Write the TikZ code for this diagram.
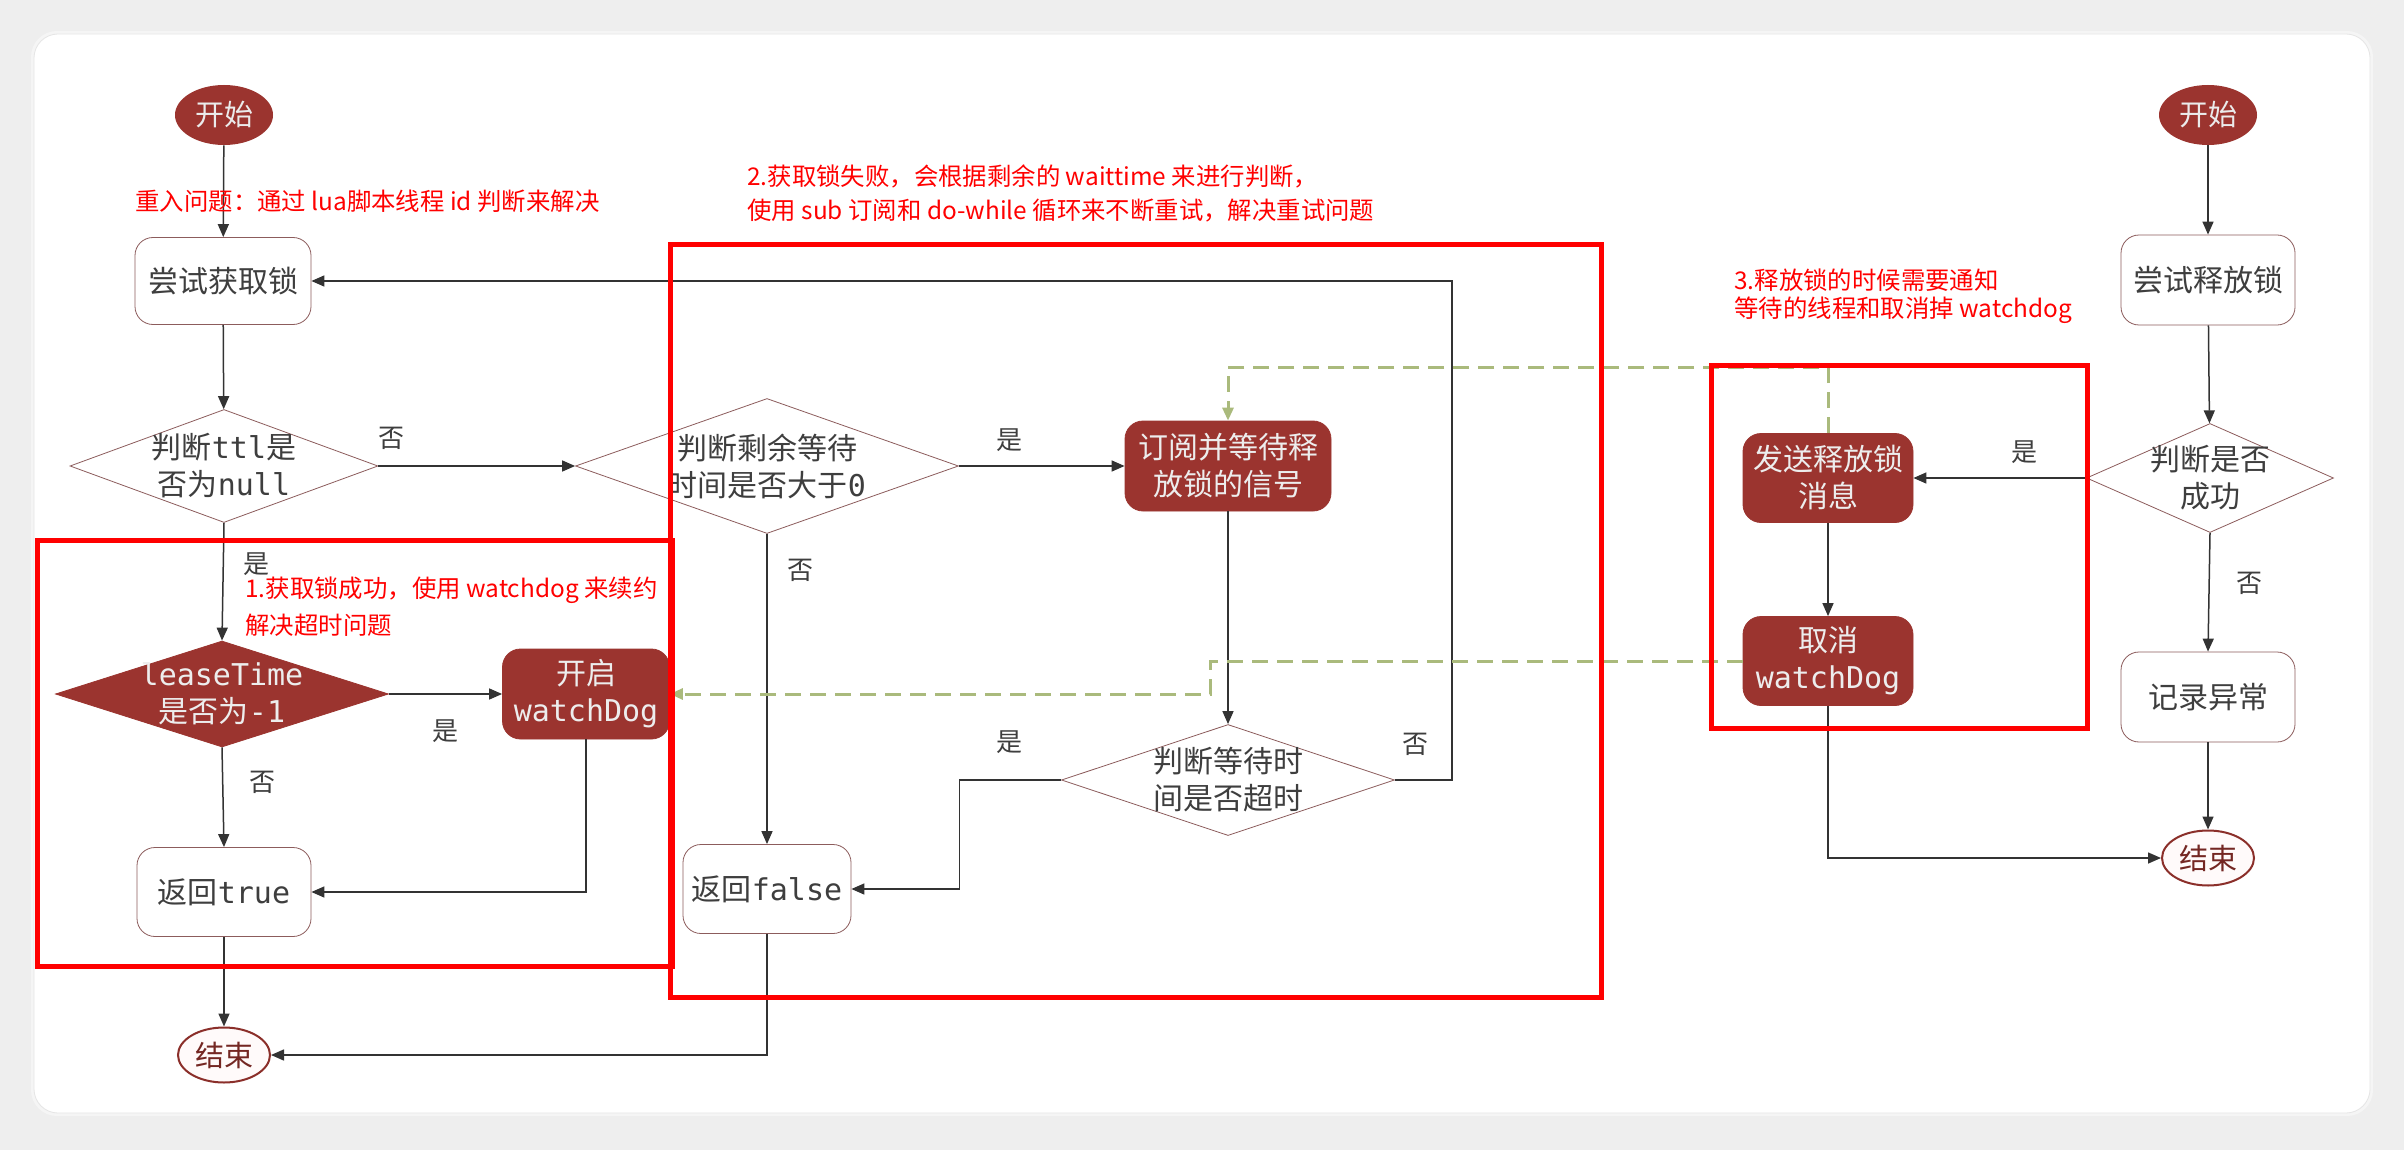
\documentclass[tikz,border=0pt]{standalone}
\usepackage{fontspec}
\setmainfont{Noto Sans CJK SC}
\newfontfamily\codefont{DejaVu Sans Mono}
\usepackage{tikz}
\usetikzlibrary{shapes,arrows.meta,positioning,calc}

\definecolor{lockred}{RGB}{155,52,47}
\definecolor{edgebrown}{RGB}{140,92,92}
\definecolor{notegreen}{RGB}{170,186,124}
\definecolor{textgray}{RGB}{62,62,62}
\definecolor{pagegray}{RGB}{238,238,238}

\newcommand{\monotxt}[1]{{\codefont #1}}

\tikzset{
  box/.style={draw=edgebrown, fill=white, rounded corners=9pt, minimum width=87pt, minimum height=44.5pt,
    inner sep=2pt, align=center, text=textgray, font=\fontsize{15}{18.5}\selectfont},
  hotbox/.style={box, draw=lockred, fill=lockred, text=white!93!black},
  decision/.style={diamond, draw=edgebrown, fill=white, inner sep=0pt},
  dtext/.style={align=center, text=textgray, font=\fontsize{15}{18.5}\selectfont},
  startnode/.style={ellipse, fill=lockred, text=white!92!black, minimum width=49pt, minimum height=30pt,
    inner sep=0pt, font=\fontsize{14.5}{16}\selectfont},
  endnode/.style={ellipse, draw=lockred!90!black, line width=1pt, fill=red!2, text=lockred!75!black,
    minimum width=46pt, minimum height=27.5pt, inner sep=0pt, font=\fontsize{14.5}{16}\selectfont},
  flow/.style={draw=black!80, line width=0.75pt, -{Triangle[length=6.5pt,width=5.5pt]}},
  notify/.style={draw=notegreen, line width=1.5pt, dash pattern=on 8pt off 4.5pt,
    -{Triangle[length=6.5pt,width=5.5pt]}},
  hint/.style={text=red, anchor=west, align=left, inner sep=0pt, font=\fontsize{12.2}{18.5}\selectfont},
  yesno/.style={text=textgray, font=\fontsize{13}{15}\selectfont},
  redframe/.style={draw=red, line width=2.5pt},
}

\begin{document}
\begin{tikzpicture}[x=0.5pt, y=-0.5pt]
    \useasboundingbox (0,0) rectangle (2404,1150);
    % Page and card
    \fill[pagegray] (0,0) rectangle (2404,1150);
    \fill[black!4, rounded corners=13pt] (31,31) rectangle (2373,1116);
    \fill[white, draw=black!10, rounded corners=12pt] (34,34) rectangle (2370,1113);

    % Acquire lock
    \node[startnode] (start1) at (224,115) {开始};
    \node[box, minimum width=88pt, minimum height=43.5pt] (try1) at (223,281) {尝试获取锁};
    \node[decision, minimum width=154pt, minimum height=56.5pt,
      label={[dtext, name=ttltxt]center:{判断\monotxt{ttl}是\\否为\monotxt{null}}}] (ttl) at (224,466) {};
    \node[decision, draw=lockred, fill=lockred, minimum width=166.5pt, minimum height=53pt,
      label={[dtext, text=white!93!black, name=leasetxt]center:{\monotxt{leaseTime}\\是否为\monotxt{-1}}}] (lease) at (222,694) {};
    \node[hotbox, minimum width=83.5pt, minimum height=45pt] (dog) at (586,694) {开启\\\monotxt{watchDog}};
    \node[box] (ret1) at (224,892) {返回\monotxt{true}};
    \node[endnode] (end1) at (224,1055) {结束};

    % Retry branch
    \node[decision, minimum width=191.5pt, minimum height=67.5pt,
      label={[dtext, name=waittxt]center:{判断剩余等待\\时间是否大于\monotxt{0}}}] (wait) at (767,466) {};
    \node[hotbox, minimum width=103pt, minimum height=45pt] (sub) at (1228,466) {订阅并等待释\\放锁的信号};
    \node[decision, minimum width=166.5pt, minimum height=55.5pt,
      label={[dtext, name=tmotxt]center:{判断等待时\\间是否超时}}] (tmo) at (1228,780) {};
    \node[box, minimum width=84pt] (ret2) at (767,889) {返回\monotxt{false}};

    % Release lock
    \node[startnode] (start2) at (2208,115) {开始};
    \node[box, minimum height=45pt] (try2) at (2208,280) {尝试释放锁};
    \node[decision, minimum width=123.5pt, minimum height=54.5pt,
      label={[dtext, name=oktxt]center:{判断是否\\成功}}] (ok) at (2210,478) {};
    \node[hotbox, minimum width=85pt] (send) at (1828,478) {发送释放锁\\消息};
    \node[hotbox, minimum width=85pt] (cancel) at (1828,661) {取消\\\monotxt{watchDog}};
    \node[box, minimum height=45pt] (log) at (2208,697) {记录异常};
    \node[endnode] (end2) at (2208,858) {结束};

    % Connectors
    \draw[flow] (start1) -- (try1);
    \draw[flow] (try1) -- (ttl);
    \draw[flow] (ttl.east) -- (wait.west);
    \draw[flow] (ttl.south) -- (lease.north);
    \draw[flow] (lease.east) -- (dog.west);
    \draw[flow] (lease.south) -- (ret1.north);
    \draw[flow] (dog.south) |- (ret1.east);
    \draw[flow] (ret1.south) -- (end1.north);
    \draw[flow] (wait.east) -- (sub.west);
    \draw[flow] (wait.south) -- (ret2.north);
    \draw[flow] (sub.south) -- (tmo.north);
    \draw[flow] (tmo.west) -- ++(-101.5,0) |- (ret2.east);
    \draw[flow] (tmo.east) -- ++(57,0) |- (try1.east);
    \draw[flow] (ret2.south) |- (end1.east);
    \draw[flow] (start2) -- (try2);
    \draw[flow] (try2) -- (ok);
    \draw[flow] (ok.west) -- (send.east);
    \draw[flow] (send) -- (cancel);
    \draw[flow] (ok.south) -- (log.north);
    \draw[flow] (log) -- (end2);
    \draw[flow] (cancel.south) |- (end2.west);

    % Notifications
    \draw[notify] (send.north) -- ++(0,-66) -| (sub.north);
    \draw[notify] (cancel.west) -- ++(-532,0) |- (dog.east);

    % Yes / no
    \node[yesno] (no1) at (391,438) {否};
    \node[yesno] (yes1) at (256,564) {是};
    \node[yesno] (yes2) at (445,731) {是};
    \node[yesno] (no2) at (262,782) {否};
    \node[yesno] (yes3) at (1009,440) {是};
    \node[yesno] (no3) at (800,570) {否};
    \node[yesno] (yes4) at (1009,742) {是};
    \node[yesno] (no4) at (1415,744) {否};
    \node[yesno] (yes5) at (2024,452) {是};
    \node[yesno] (no5) at (2249,583) {否};

    % Notes
    \node[hint] (hint1) at (135,201) {重入问题：通过 lua脚本线程 id 判断来解决};
    \node[hint] (hint2) at (245,607) {1.获取锁成功，使用 watchdog 来续约\\解决超时问题};
    \node[hint, font=\fontsize{12.2}{17}\selectfont] (hint3) at (747,193)
      {2.获取锁失败，会根据剩余的 waittime 来进行判断，\\使用 sub 订阅和 do-while 循环来不断重试，解决重试问题};
    \node[hint, font=\fontsize{12.2}{14}\selectfont] (hint4) at (1734,296) {3.释放锁的时候需要通知\\等待的线程和取消掉 watchdog};

    % Frames
    \draw[redframe] (37,540) rectangle (672,966);
    \draw[redframe] (670,245) rectangle (1601,997);
    \draw[redframe] (1711,365) rectangle (2087,728);
\end{tikzpicture}
\end{document}
